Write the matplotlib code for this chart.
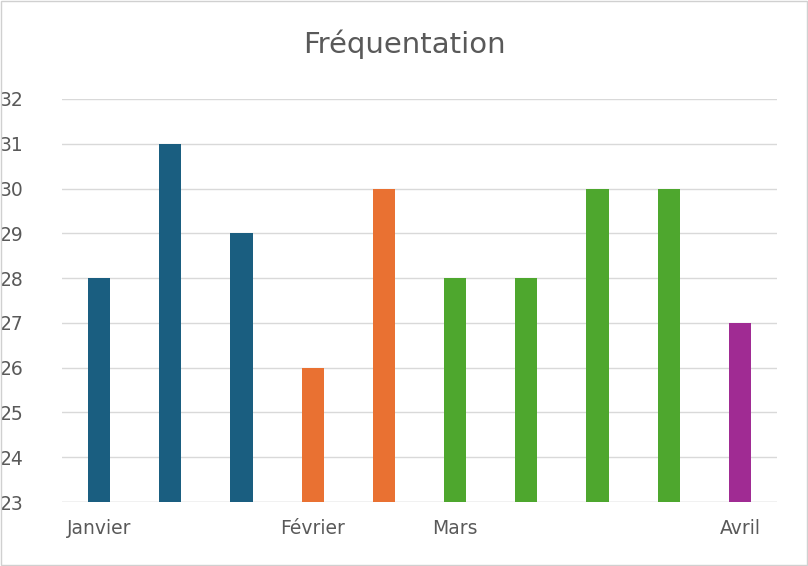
import matplotlib.pyplot as plt
from matplotlib.patches import Rectangle

values = [28, 31, 29, 26, 30, 28, 28, 30, 30, 27]
colors = ['#1a5e80']*3 + ['#e97132']*2 + ['#4ea72e']*4 + ['#a02b93']
tick_pos = [0, 3, 5, 9]
tick_labels = ['Janvier', 'Février', 'Mars', 'Avril']

fig = plt.figure(figsize=(8.08, 5.66), dpi=100)
ax = fig.add_axes([62/808, 1-502/566, (777-62)/808, (502-99)/566])
ax.bar(range(len(values)), [v-23 for v in values], bottom=23, width=0.31, color=colors, zorder=3)
ax.set_ylim(23, 32)
ax.set_xlim(-0.52, 9.52)
ax.set_yticks(range(23, 33))
ax.set_xticks(tick_pos)
ax.set_xticklabels(tick_labels)
ax.tick_params(length=0, labelsize=13.5, labelcolor='#595959')
ax.tick_params(axis='x', pad=12)
ax.tick_params(axis='y', pad=20)
for lab in ax.get_yticklabels():
    lab.set_horizontalalignment('left')
ax.yaxis.set_tick_params(pad=45)
ax.grid(axis='y', color='#d9d9d9', lw=1, zorder=0)
for s in ax.spines.values():
    s.set_visible(False)
ax.axhline(23, color='#d9d9d9', lw=1, zorder=2)
fig.text(0.5, 1-44/566, 'Fréquentation', ha='center', va='center', fontsize=21, color='#595959')
fig.patches.append(Rectangle((0.001, 0.001), 0.998, 0.998, transform=fig.transFigure,
                             fill=False, edgecolor='#d0d0d0', lw=1))
fig.savefig('out.png')
